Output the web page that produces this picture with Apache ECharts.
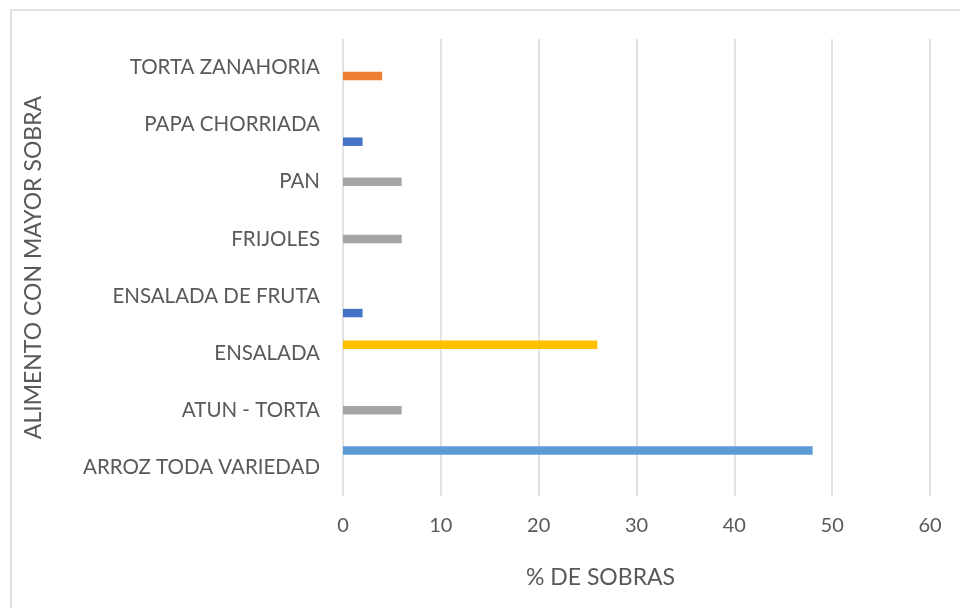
<!DOCTYPE html>
<html>
<head>
<meta charset="utf-8">
<script src="https://cdn.jsdelivr.net/npm/echarts@6/dist/echarts.min.js"></script>
<style>
  html, body { margin: 0; padding: 0; background: #fff; }
  #chart { width: 960px; height: 608px; }
</style>
</head>
<body>
<div id="chart"></div>
<script>
// categories bottom to top, as in the spreadsheet
const categories = [
  'ARROZ TODA VARIEDAD',
  'ATUN - TORTA',
  'ENSALADA',
  'ENSALADA DE FRUTA',
  'FRIJOLES',
  'PAN',
  'PAPA CHORRIADA',
  'TORTA ZANAHORIA'
];

// one series per colour, null where the category has no bar
const serie1 = [null, null, null, 2, null, null, 2, null];
const serie2 = [null, null, null, null, null, null, null, 4];
const serie3 = [null, 6, null, null, 6, 6, null, null];
const serie4 = [null, null, 26, null, null, null, null, null];
const serie5 = [48, null, null, null, null, null, null, null];

const xTicks = [0, 10, 20, 30, 40, 50, 60];

const FONT = 'Lato';
const TEXT = '#595959';
const GRID = '#D9D9D9';

const chart = echarts.init(document.getElementById('chart'));

function barSeries(name, data, color) {
  return {
    name: name,
    type: 'bar',
    data: data,
    barWidth: 8.5,
    barGap: '0%',
    itemStyle: { color: color }
  };
}

const option = {
  animation: false,
  textStyle: { fontFamily: FONT },
  graphic: [
    {
      type: 'rect',
      shape: { x: 11, y: 10, width: 960, height: 620 },
      style: { fill: 'none', stroke: GRID, lineWidth: 1.5 },
      silent: true
    }
  ],
  grid: {
    left: 343,
    right: 30,
    top: 39,
    bottom: 112
  },
  xAxis: {
    type: 'value',
    min: xTicks[0],
    max: xTicks[xTicks.length - 1],
    interval: 10,
    name: '% DE SOBRAS',
    nameLocation: 'middle',
    nameGap: 70,
    nameTextStyle: {
      fontSize: 23,
      color: TEXT,
      fontFamily: FONT,
      padding: [0, 72, 0, 0]
    },
    axisLine: { show: false },
    axisTick: { show: false },
    axisLabel: { fontSize: 20, color: TEXT, margin: 20, fontFamily: FONT },
    splitLine: { lineStyle: { color: GRID, width: 1.5 } }
  },
  yAxis: {
    type: 'category',
    data: categories,
    name: 'ALIMENTO CON MAYOR SOBRA',
    nameLocation: 'middle',
    nameRotate: 90,
    nameGap: 298,
    nameTextStyle: { fontSize: 23, color: TEXT, fontFamily: FONT },
    axisLine: { show: false },
    axisTick: { show: false },
    axisLabel: { fontSize: 20.5, color: TEXT, margin: 23, fontFamily: FONT },
    splitLine: { show: false }
  },
  // ECharts stacks horizontal groups top-down, so the last spreadsheet series goes first
  series: [
    barSeries('Serie 5', serie5, '#5B9BD5'),
    barSeries('Serie 4', serie4, '#FFC000'),
    barSeries('Serie 3', serie3, '#A5A5A5'),
    barSeries('Serie 2', serie2, '#ED7D31'),
    barSeries('Serie 1', serie1, '#4472C4')
  ]
};

chart.setOption(option);
</script>
</body>
</html>
